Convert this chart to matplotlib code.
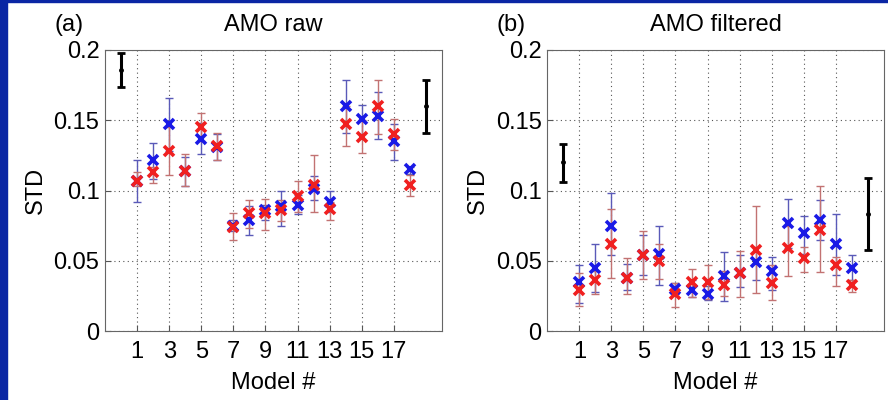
import numpy as np
import matplotlib
matplotlib.use("Agg")
import matplotlib.pyplot as plt
from matplotlib.patches import Rectangle

plt.rcParams['font.family'] = ['Liberation Sans', 'DejaVu Sans']

models = np.arange(1, 19)

# panel (a) AMO raw
raw_blue = [0.107, 0.122, 0.147, 0.114, 0.137, 0.131, 0.075, 0.079, 0.086, 0.089, 0.090, 0.101,
            0.092, 0.160, 0.151, 0.153, 0.135, 0.115]
raw_blue_lo = [0.092, 0.108, 0.128, 0.103, 0.126, 0.122, 0.071, 0.068, 0.079, 0.075, 0.083, 0.093,
               0.085, 0.141, 0.140, 0.137, 0.122, 0.112]
raw_blue_hi = [0.122, 0.134, 0.166, 0.124, 0.148, 0.140, 0.079, 0.089, 0.090, 0.100, 0.097, 0.110,
               0.100, 0.179, 0.161, 0.170, 0.147, 0.117]
raw_red = [0.107, 0.113, 0.128, 0.114, 0.145, 0.132, 0.074, 0.084, 0.084, 0.086, 0.096, 0.104,
           0.087, 0.147, 0.138, 0.160, 0.140, 0.104]
raw_red_lo = [0.103, 0.105, 0.111, 0.103, 0.135, 0.122, 0.065, 0.073, 0.072, 0.078, 0.085, 0.085,
              0.079, 0.132, 0.127, 0.140, 0.129, 0.096]
raw_red_hi = [0.113, 0.117, 0.145, 0.126, 0.155, 0.141, 0.084, 0.093, 0.094, 0.093, 0.107, 0.125,
              0.092, 0.160, 0.150, 0.179, 0.151, 0.111]
raw_obs = [0.186, 0.160]
raw_obs_lo = [0.174, 0.141]
raw_obs_hi = [0.198, 0.179]

# panel (b) AMO filtered
filt_blue = [0.035, 0.045, 0.075, 0.038, 0.054, 0.055, 0.030, 0.029, 0.026, 0.039, 0.041, 0.049,
             0.043, 0.077, 0.070, 0.079, 0.062, 0.045]
filt_blue_lo = [0.020, 0.028, 0.054, 0.029, 0.040, 0.033, 0.026, 0.024, 0.022, 0.021, 0.031, 0.036,
                0.029, 0.059, 0.055, 0.065, 0.040, 0.036]
filt_blue_hi = [0.047, 0.062, 0.098, 0.048, 0.068, 0.075, 0.034, 0.036, 0.032, 0.056, 0.054, 0.060,
                0.053, 0.094, 0.082, 0.093, 0.083, 0.054]
filt_red = [0.029, 0.036, 0.062, 0.038, 0.054, 0.050, 0.026, 0.035, 0.035, 0.033, 0.041, 0.058,
            0.034, 0.059, 0.052, 0.072, 0.047, 0.033]
filt_red_lo = [0.018, 0.026, 0.038, 0.026, 0.037, 0.037, 0.017, 0.024, 0.023, 0.025, 0.024, 0.027,
               0.022, 0.039, 0.042, 0.042, 0.032, 0.028]
filt_red_hi = [0.041, 0.043, 0.087, 0.052, 0.071, 0.062, 0.034, 0.044, 0.047, 0.043, 0.057, 0.089,
               0.047, 0.075, 0.060, 0.103, 0.053, 0.036]
filt_obs = [0.120, 0.083]
filt_obs_lo = [0.106, 0.058]
filt_obs_hi = [0.133, 0.109]

obs_x = [0, 19]
xticks = [1, 3, 5, 7, 9, 11, 13, 15, 17]
yticks = [0, 0.05, 0.1, 0.15, 0.2]
ytick_labels = ['0', '0.05', '0.1', '0.15', '0.2']

FS = 17


def err(v, lo, hi):
    v = np.array(v)
    return [v - np.array(lo), np.array(hi) - v]


def panel(ax, blue, blo, bhi, red, rlo, rhi, obs, olo, ohi, letter, title):
    ax.errorbar(models, blue, yerr=err(blue, blo, bhi), fmt='none', ecolor='#5a5ab8',
                elinewidth=1, capsize=3, capthick=1, zorder=2)
    ax.errorbar(models, red, yerr=err(red, rlo, rhi), fmt='none', ecolor='#c27272',
                elinewidth=1, capsize=3, capthick=1, zorder=2)
    ax.plot(models, blue, 'x', color='#1a1ae6', ms=7, mew=2.6, zorder=3)
    ax.plot(models, red, 'x', color='#f02020', ms=7, mew=2.6, zorder=4)
    ax.errorbar(obs_x, obs, yerr=err(obs, olo, ohi), fmt='.', color='black', ms=5,
                elinewidth=2.2, capsize=3, capthick=2, zorder=5)
    ax.set_xlim(-1, 20)
    ax.set_ylim(0, 0.2)
    ax.set_xticks(xticks)
    ax.set_yticks(yticks)
    ax.set_yticklabels(ytick_labels)
    ax.grid(True, linestyle=(0, (1, 3)), color='#555555', linewidth=0.8)
    ax.tick_params(direction='in', labelsize=FS, length=4, color='#555555')
    ax.tick_params(axis='x', pad=7)
    ax.tick_params(axis='y', pad=4)
    for s in ax.spines.values():
        s.set_color('#666666')
    ax.set_xlabel('Model #', fontsize=FS, labelpad=7)
    ax.set_ylabel('STD', fontsize=FS, labelpad=5)
    ax.set_title(title, fontsize=FS, pad=14)
    ax.text(-0.15, 1.05, letter, transform=ax.transAxes, fontsize=FS, ha='left', va='bottom')


fig = plt.figure(figsize=(8.88, 4.0), dpi=100)
ax1 = fig.add_axes([0.1182, 0.1725, 0.3795, 0.7025])
ax2 = fig.add_axes([0.6163, 0.1725, 0.379, 0.7025])

panel(ax1, raw_blue, raw_blue_lo, raw_blue_hi, raw_red, raw_red_lo, raw_red_hi,
      raw_obs, raw_obs_lo, raw_obs_hi, '(a)', 'AMO raw')
panel(ax2, filt_blue, filt_blue_lo, filt_blue_hi, filt_red, filt_red_lo, filt_red_hi,
      filt_obs, filt_obs_lo, filt_obs_hi, '(b)', 'AMO filtered')

# slide frame in the corner
fig.patches.append(Rectangle((0, 0), 7 / 888, 1, transform=fig.transFigure, color='#0a26a4', zorder=0))
fig.patches.append(Rectangle((0, 1 - 2 / 400), 1, 2 / 400, transform=fig.transFigure, color='#0a26a4', zorder=0))

fig.savefig('out.png', dpi=100)
